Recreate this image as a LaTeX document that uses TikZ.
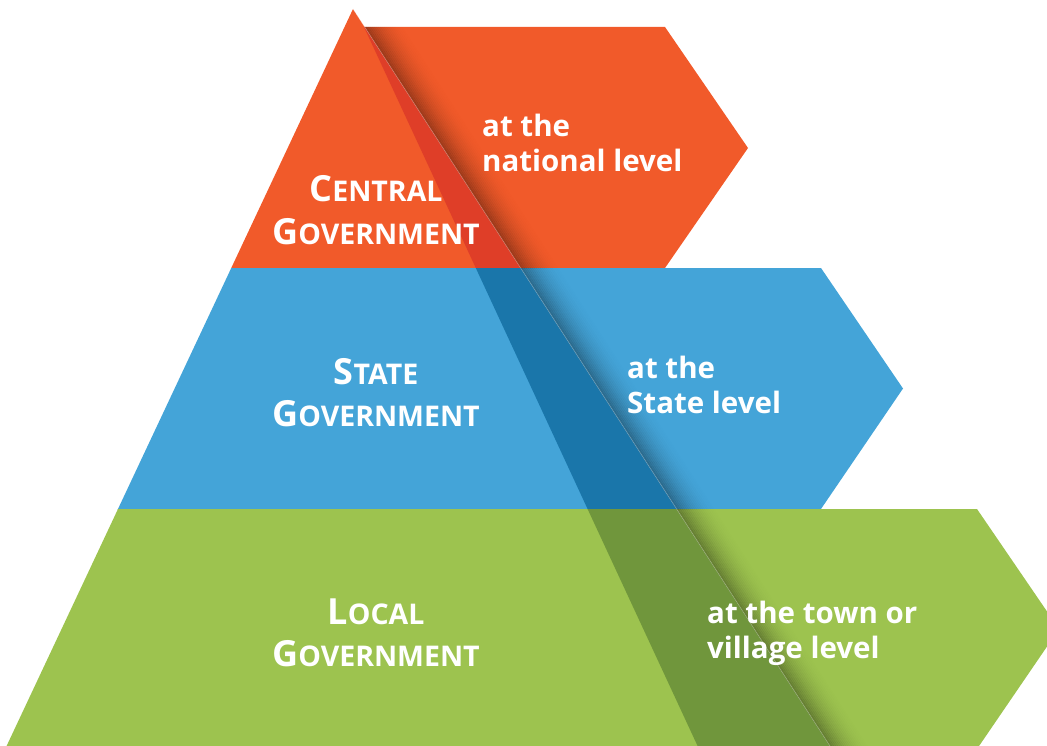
\documentclass[tikz,border=0pt]{standalone}
\usepackage{fontspec}
\setsansfont{Open Sans}
\definecolor{orangeC}{RGB}{241,90,42}
\definecolor{orangeD}{RGB}{223,62,40}
\definecolor{blueC}{RGB}{68,164,216}
\definecolor{blueD}{RGB}{26,118,170}
\definecolor{greenC}{RGB}{157,195,79}
\definecolor{greenD}{RGB}{112,150,60}
\newcommand\scbig[1]{{\fontsize{36}{42}\selectfont #1}}
\newcommand\scsmall[1]{{\fontsize{28.5}{42}\selectfont #1}}
\tikzset{
  lab/.style={text=white, font=\sffamily\bfseries, inner sep=0pt},
  rlab/.style={text=white, font=\sffamily\bfseries\fontsize{29.5}{34}\selectfont, inner sep=0pt, anchor=base west},
  edgeline/.style={white, opacity=0.45, line width=0.4pt}
}
\begin{document}
\begin{tikzpicture}[x=1pt,y=-1pt]
\useasboundingbox (0,0) rectangle (1047,746);
\clip (0,0) rectangle (1047,746);
% pyramid
\coordinate (apex) at (353,9);
\coordinate (pl) at (0,760);
\coordinate (pr) at (839,760);
% orange band
\coordinate (o1) at (364,27);
\coordinate (o2) at (665,27);
\coordinate (o3) at (748,148);
\coordinate (o4) at (665,268);
\coordinate (o5) at (475.8,268);
% blue band
\coordinate (b1) at (475.8,268);
\coordinate (b2) at (821,268);
\coordinate (b3) at (903,388.5);
\coordinate (b4) at (821,509);
\coordinate (b5) at (587.6,509);
% green band
\coordinate (g1) at (587.6,509);
\coordinate (g2) at (977,509);
\coordinate (g3) at (1059,629);
\coordinate (g4) at (977,749);
\coordinate (g5) at (699,749);
\def\pyr{(apex) -- (pl) -- (pr) -- cycle}
\def\oband{(o1) -- (o2) -- (o3) -- (o4) -- (o5) -- cycle}
\def\bband{(b1) -- (b2) -- (b3) -- (b4) -- (b5) -- cycle}
\def\gband{(g1) -- (g2) -- (g3) -- (g4) -- (g5) -- cycle}
\newcommand\shadowlines{%
  \foreach \k in {0,...,19}{%
    \pgfmathsetmacro\op{0.32*(1-\k/20)^2}%
    \draw[black, opacity=\op, line width=1.7pt] ({353+2*\k+1},9) -- ++(517.6,800);
  }}
% bands
\fill[orangeC] \oband;
\fill[blueC] \bband;
\fill[greenC] \gband;
% pyramid levels
\begin{scope}\clip (0,0) rectangle (1047,268); \fill[orangeC] \pyr; \end{scope}
\begin{scope}\clip (0,268) rectangle (1047,509); \fill[blueC] \pyr; \end{scope}
\begin{scope}\clip (0,509) rectangle (1047,760); \fill[greenC] \pyr; \end{scope}
% overlaps
\begin{scope}\clip \oband; \fill[orangeD] \pyr; \end{scope}
\begin{scope}\clip \bband; \fill[blueD] \pyr; \end{scope}
\begin{scope}\clip \gband; \fill[greenD] \pyr; \end{scope}
% shadows
\begin{scope}\clip \oband; \shadowlines \end{scope}
\begin{scope}\clip \bband; \shadowlines \end{scope}
\begin{scope}\clip \gband; \shadowlines \end{scope}
\draw[edgeline] (apex) -- (pr);
% left labels
\node[lab, anchor=base] (c1) at (376,202) {\scbig{C}\scsmall{ENTRAL}};
\node[lab, anchor=base] (c2) at (376,245) {\scbig{G}\scsmall{OVERNMENT}};
\node[lab, anchor=base] (s1) at (376,384) {\scbig{S}\scsmall{TATE}};
\node[lab, anchor=base] (s2) at (376,426) {\scbig{G}\scsmall{OVERNMENT}};
\node[lab, anchor=base] (l1) at (376,624) {\scbig{L}\scsmall{OCAL}};
\node[lab, anchor=base] (l2) at (376,666) {\scbig{G}\scsmall{OVERNMENT}};
% right labels
\node[rlab] (n1) at (482,137) {at the};
\node[rlab] (n2) at (482,172) {national level};
\node[rlab] (st1) at (627,378) {at the};
\node[rlab] (st2) at (627,413) {State level};
\node[rlab] (t1) at (707,623) {at the town or};
\node[rlab] (t2) at (707,658) {village level};
\end{tikzpicture}
\end{document}
